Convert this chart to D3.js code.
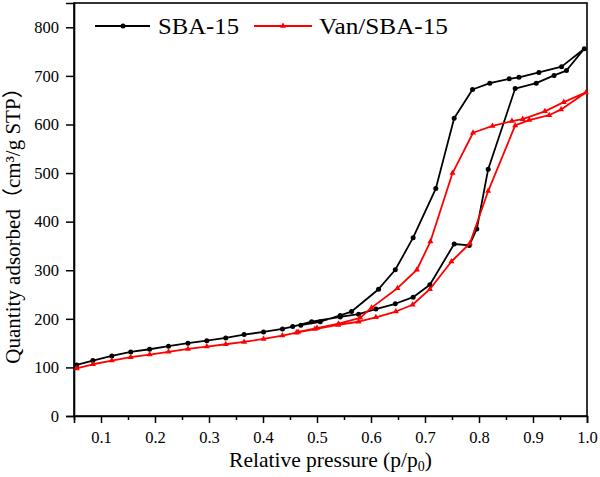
<!DOCTYPE html>
<html>
<head>
<meta charset="utf-8">
<script src="https://cdn.jsdelivr.net/npm/d3@7"></script>
<style>
  html, body { margin: 0; padding: 0; background: #fff; }
  svg { display: block; }
  text { font-family: "Liberation Serif", "Times New Roman", "Noto Sans CJK SC", serif; fill: #000; }
</style>
</head>
<body>
<svg id="chart" width="600" height="477"></svg>
<script>
// ---------------- data ----------------
const seriesNames = ["SBA-15", "Van/SBA-15"];
const seriesColors = ["#000000", "#ff0000"];

// SBA-15 adsorption branch
const sbaAdsP = [0.055, 0.085, 0.120, 0.155, 0.190, 0.225, 0.261, 0.296, 0.331, 0.365, 0.401, 0.436, 0.455,
                 0.490, 0.543, 0.577, 0.609, 0.645, 0.678, 0.709, 0.754, 0.782, 0.796, 0.817, 0.867, 0.906, 0.939, 0.962, 0.995];
const sbaAdsV = [105, 114, 123.6, 131.9, 137.4, 143.6, 149.8, 155.1, 160.7, 167.5, 173, 179.2, 184,
                 194, 204, 209.5, 220, 231, 244.5, 270, 354, 351, 385, 508, 674, 685, 701, 711, 756];
// SBA-15 desorption branch
const sbaDesP = [0.953, 0.911, 0.874, 0.856, 0.820, 0.788, 0.754, 0.720, 0.678, 0.645, 0.614, 0.564, 0.543, 0.506, 0.470];
const sbaDesV = [719, 707, 697, 694, 685, 672, 613, 468, 367, 301, 261, 215, 207, 194, 187];

// Van/SBA-15 adsorption branch
const vanAdsP = [0.055, 0.085, 0.120, 0.155, 0.190, 0.225, 0.261, 0.296, 0.331, 0.365, 0.401, 0.436, 0.462,
                 0.496, 0.539, 0.577, 0.609, 0.646, 0.677, 0.709, 0.749, 0.783, 0.817, 0.867, 0.893, 0.930, 0.952, 0.998];
const vanAdsV = [98, 106.5, 114, 121, 126.4, 132, 138, 142.8, 147.7, 152.5, 158.6, 165.5, 171.6,
                 179, 187.5, 194, 203, 215, 229, 261, 318, 355, 463, 598, 609, 619, 631, 666];
// Van/SBA-15 desorption branch
const vanDesP = [0.957, 0.922, 0.881, 0.861, 0.825, 0.789, 0.751, 0.710, 0.685, 0.649, 0.601, 0.580, 0.540, 0.500, 0.465];
const vanDesV = [646, 627, 611, 607, 597, 583, 500, 359, 301, 263, 223, 202, 190, 181, 173];

const xTicks = [0.1, 0.2, 0.3, 0.4, 0.5, 0.6, 0.7, 0.8, 0.9, 1.0];
const xMinorTicks = [0.05, 0.15, 0.25, 0.35, 0.45, 0.55, 0.65, 0.75, 0.85, 0.95];
const yTicks = [0, 100, 200, 300, 400, 500, 600, 700, 800];

const xTitle = "Relative pressure (p/p";
const xTitleSub = "0";
const yTitle = "Quantity adsorbed（cm³/g STP）";

// ---------------- layout ----------------
const L = 74, R = 587, T = 3, B = 416;
const svg = d3.select("#chart");
const x = d3.scaleLinear().domain([0.05, 1.0]).range([L, R]);
const y = d3.scaleLinear().domain([0, 850]).range([B, T]);

// frame
svg.append("rect")
  .attr("x", L).attr("y", T).attr("width", R - L).attr("height", B - T)
  .attr("fill", "none").attr("stroke", "#000").attr("stroke-width", 1.6);

// x axis
const xAxis = svg.append("g").attr("transform", `translate(0,${B})`)
  .call(d3.axisBottom(x).tickValues(xTicks).tickFormat(d3.format(".1f")).tickSize(7).tickPadding(8));
svg.append("g").attr("transform", `translate(0,${B})`)
  .call(d3.axisBottom(x).tickValues(xMinorTicks).tickFormat("").tickSize(4))
  .call(g => g.select(".domain").remove());
// y axis
const yAxis = svg.append("g").attr("transform", `translate(${L},0)`)
  .call(d3.axisLeft(y).tickValues(yTicks).tickFormat(d3.format("d")).tickSize(8).tickPadding(7));

svg.selectAll(".tick line").attr("stroke", "#000").attr("stroke-width", 1.5);
svg.selectAll(".domain").attr("stroke", "#000").attr("stroke-width", 1.6);
svg.selectAll(".tick text").attr("font-size", 16.5).attr("font-family", "Liberation Serif, serif");
xAxis.selectAll(".tick text").attr("dy", "0.71em");

// titles
const xt = svg.append("text").attr("x", (L + R) / 2).attr("y", 467)
  .attr("text-anchor", "middle").attr("font-size", 21.5);
xt.append("tspan").text(xTitle);
xt.append("tspan").attr("dy", 4).attr("font-size", 14).text(xTitleSub);
xt.append("tspan").attr("dy", -4).text(")");

svg.append("text")
  .attr("transform", `translate(19.5,${(T + B) / 2 + 11}) rotate(-90)`)
  .attr("text-anchor", "middle").attr("font-size", 21)
  .text(yTitle);

// ---------------- series ----------------
function buildPoints(ap, av, dp, dv) {
  const pts = ap.map((p, i) => ({ p, v: av[i] }));
  return pts.concat(dp.map((p, i) => ({ p, v: dv[i] })));
}
const series = [
  buildPoints(sbaAdsP, sbaAdsV, sbaDesP, sbaDesV),
  buildPoints(vanAdsP, vanAdsV, vanDesP, vanDesV)
];

const line = d3.line().x(d => x(d.p)).y(d => y(d.v)).curve(d3.curveLinear);
const tri = d3.symbol().type(d3.symbolTriangle).size(16);

series.forEach((pts, si) => {
  const g = svg.append("g");
  g.append("path").datum(pts).attr("d", line)
    .attr("fill", "none").attr("stroke", seriesColors[si]).attr("stroke-width", 1.8)
    .attr("stroke-linejoin", "round");
  if (si === 0) {
    g.selectAll("circle").data(pts).join("circle")
      .attr("cx", d => x(d.p)).attr("cy", d => y(d.v)).attr("r", 2.5).attr("fill", seriesColors[si]);
  } else {
    g.selectAll("path.m").data(pts).join("path").attr("class", "m")
      .attr("transform", d => `translate(${x(d.p)},${y(d.v)})`)
      .attr("d", tri).attr("fill", seriesColors[si]);
  }
});

// ---------------- legend ----------------
const leg = svg.append("g");
// SBA-15
leg.append("line").attr("x1", 95).attr("x2", 150).attr("y1", 26).attr("y2", 26)
  .attr("stroke", seriesColors[0]).attr("stroke-width", 1.8);
leg.append("circle").attr("cx", 123).attr("cy", 26).attr("r", 2.5).attr("fill", seriesColors[0]);
leg.append("text").attr("x", 158).attr("y", 33.5).attr("font-size", 22.5)
  .attr("textLength", 81).attr("lengthAdjust", "spacingAndGlyphs").text(seriesNames[0]);
// Van/SBA-15
leg.append("line").attr("x1", 254).attr("x2", 312).attr("y1", 26).attr("y2", 26)
  .attr("stroke", seriesColors[1]).attr("stroke-width", 1.8);
leg.append("path").attr("transform", "translate(283,26)").attr("d", tri).attr("fill", seriesColors[1]);
leg.append("text").attr("x", 319).attr("y", 33.5).attr("font-size", 22.5)
  .attr("textLength", 129).attr("lengthAdjust", "spacingAndGlyphs").text(seriesNames[1]);
</script>
</body>
</html>
